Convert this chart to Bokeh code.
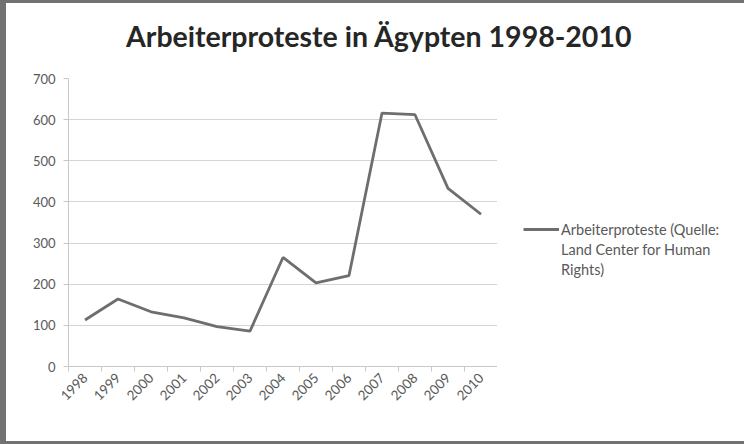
from math import pi
from bokeh.plotting import figure
from bokeh.models import FixedTicker, Legend, LegendItem, Range1d, Div
from bokeh.layouts import row, column
from bokeh.embed import file_html
from bokeh.resources import INLINE

years = [1998, 1999, 2000, 2001, 2002, 2003, 2004, 2005, 2006, 2007, 2008, 2009, 2010]
protests = [113, 164, 133, 118, 97, 86, 265, 203, 221, 616, 612, 433, 370]
y_ticks = [0, 100, 200, 300, 400, 500, 600, 700]
title_text = "Arbeiterproteste in Ägypten 1998-2010"
legend_lines = ["Arbeiterproteste (Quelle:", "Land Center for Human", "Rights)"]

FONT = "Lato"
TXT = "#595959"
LINE_COLOR = "#6e6e6e"

title = Div(text=('<div style="padding-top:16px;padding-left:120px;'
                  'font-family:Lato;font-size:28.5px;font-weight:bold;color:#262626;'
                  'line-height:1.2;white-space:nowrap">' + title_text + '</div>'),
            width=738, height=60, margin=0, styles={"background": "white"})

p = figure(width=491, height=378, output_backend="svg", toolbar_location=None,
           x_range=Range1d(years[0] - 0.5, years[-1] + 0.5),
           y_range=Range1d(y_ticks[0], y_ticks[-1]),
           min_border_left=62, min_border_right=0, min_border_top=15, min_border_bottom=75)

p.outline_line_color = None
p.background_fill_color = "white"
p.border_fill_color = "white"

line = p.line(years, protests, line_color=LINE_COLOR, line_width=2.8)

boundaries = [y - 0.5 for y in years] + [years[-1] + 0.5]
p.xaxis.ticker = FixedTicker(ticks=years, minor_ticks=boundaries)
p.xaxis.major_label_orientation = pi / 4
p.xaxis.major_tick_out = 0
p.xaxis.major_tick_in = 0
p.xaxis.minor_tick_out = 5
p.xaxis.minor_tick_in = 0
p.xaxis.minor_tick_line_color = "#c8c8c8"
p.xaxis.axis_line_color = "#c8c8c8"
p.xaxis.major_label_text_font = FONT
p.xaxis.major_label_text_font_size = "13.5px"
p.xaxis.major_label_text_color = TXT
p.xaxis.major_label_standoff = 4

p.yaxis.ticker = FixedTicker(ticks=y_ticks)
p.yaxis.minor_tick_line_color = None
p.yaxis.major_tick_out = 5
p.yaxis.major_tick_in = 0
p.yaxis.major_tick_line_color = "#c8c8c8"
p.yaxis.axis_line_color = "#c8c8c8"
p.yaxis.major_label_text_font = FONT
p.yaxis.major_label_text_font_size = "13px"
p.yaxis.major_label_text_color = TXT
p.yaxis.major_label_standoff = 8

p.xgrid.grid_line_color = None
p.ygrid.ticker = FixedTicker(ticks=y_ticks)
p.ygrid.grid_line_color = "#d4d4d4"
p.ygrid.grid_line_width = 1

# legend panel on the right (key lines use the series but lie outside the view)
p2 = figure(width=247, height=378, output_backend="svg", toolbar_location=None,
            x_range=Range1d(0, 1), y_range=Range1d(0, 1),
            min_border=0, x_axis_type=None, y_axis_type=None)
p2.outline_line_color = None
p2.xgrid.grid_line_color = None
p2.ygrid.grid_line_color = None
p2.border_fill_color = "white"
p2.background_fill_color = "white"
key = p2.line(years, protests, line_color=LINE_COLOR, line_width=2.8)
blank = p2.line(years, protests, line_alpha=0)

items = [LegendItem(label=legend_lines[0], renderers=[key])]
items += [LegendItem(label=t, renderers=[blank]) for t in legend_lines[1:]]
legend = Legend(items=items, location=(26, 87), border_line_color=None, background_fill_alpha=0,
                label_text_font=FONT, label_text_font_size="14.5px", label_text_color=TXT,
                glyph_width=36, glyph_height=20, label_height=20, label_standoff=2,
                padding=0, margin=0, spacing=0)
p2.add_layout(legend, "center")

inner = column(title, row(p, p2, spacing=0, styles={"background": "white"}), spacing=0,
               styles={"background": "white"})
layout = column(inner, styles={"background": "#727272", "padding": "3px 0px 3px 6px"})

open("out.html", "w").write(file_html(layout, INLINE))
